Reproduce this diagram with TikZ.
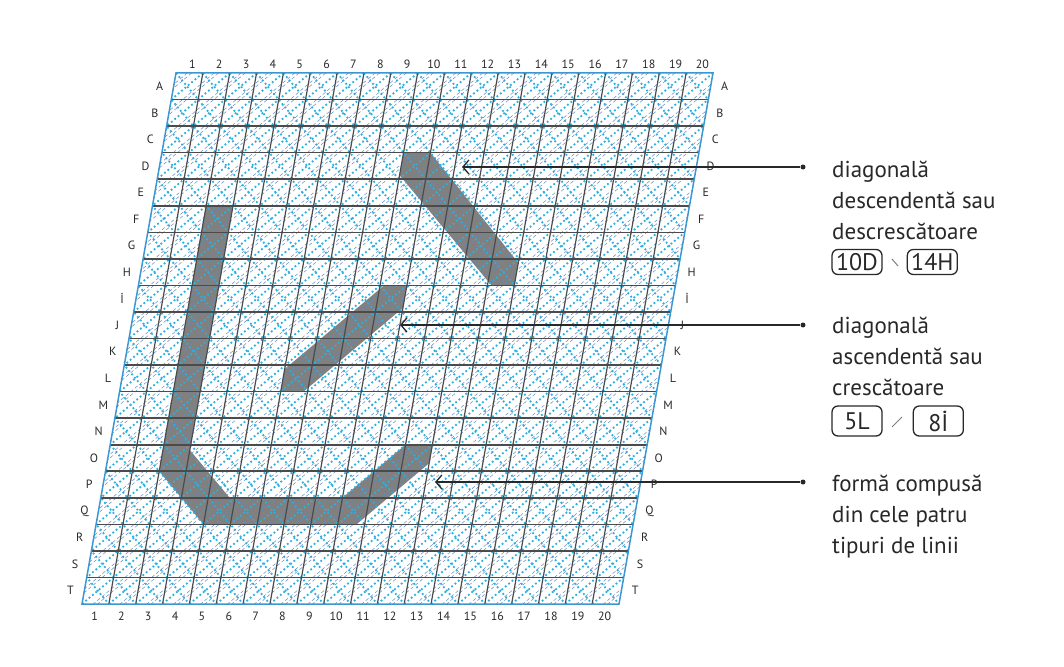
\documentclass[tikz,border=0pt]{standalone}
\usepackage{fontspec}
\setmainfont{PT Sans}
\usetikzlibrary{arrows.meta,positioning}

\definecolor{GridGray}{RGB}{75,75,75}
\definecolor{BandGray}{RGB}{128,128,128}
\definecolor{DotCyan}{RGB}{45,175,225}
\definecolor{DashBlue}{RGB}{95,140,190}
\definecolor{EdgeBlue}{RGB}{60,150,210}
\definecolor{InkGray}{RGB}{40,40,40}

\begin{document}
\begin{tikzpicture}[x=1pt,y=-1pt]
\tikzset{GridLine/.style = {GridGray, line width=1.2pt},
	RowLine/.style = {GridGray, line width=1.6pt},
	DotLine/.style = {DotCyan, line width=1.8pt, dash pattern=on 1.8pt off 2.6pt},
	DashLine/.style = {DashBlue, line width=0.5pt, dash pattern=on 3.5pt off 2.5pt},
	BandStyle/.style = {fill=BandGray},
	LabelStyle/.style = {font=\fontsize{12}{12}\selectfont, text=InkGray, inner sep=0pt},
	TextStyle/.style = {font=\fontsize{23}{23}\selectfont, text=InkGray, anchor=base west, inner sep=0pt},
	BoxStyle/.style = {draw=InkGray, line width=1.3pt, rounded corners=6pt,
		minimum width=50pt, minimum height=25pt, inner sep=1pt,
		font=\fontsize{24}{24}\selectfont, text=InkGray},
	BulletStyle/.style = {circle, fill=InkGray, inner sep=0pt, minimum size=5pt},
	PointerStyle/.style = {InkGray, line width=1.3pt, -{Straight Barb[length=6pt,width=14pt]}}}
\useasboundingbox (0,0) rectangle (1064,666);
\begin{scope}[shift={(176,73)}, x={(26.85pt,0pt)}, y={(-4.7pt,-26.55pt)}]
% shaded strokes
\fill[BandStyle] (9,3) -- (10,3) -- (14,7.15) -- (14,8) -- (13.15,8) -- (9,3.85) -- cycle;
\fill[BandStyle] (9.15,8) -- (10,8) -- (10,8.85) -- (6.85,12) -- (6,12) -- (6,11.15) -- cycle;
\fill[BandStyle] (2,5) -- (3,5) -- (3,14.2) -- (4.8,16) -- (9,16) -- (11,14) -- (12,14)
	-- (12,14.7) -- (9.7,17) -- (4,17) -- (2,15) -- cycle;
\begin{scope}
\clip (0,0) -- (20,0) -- (20,20) -- (0,20) -- cycle;
\foreach \c in {-20,...,20} \draw[DotLine] (\c,0) -- (\c+20,20);
\foreach \c in {0,...,40} {
	\draw[DotLine] (\c,0) -- (\c-20,20);
	\draw[DashLine] (\c+0.42,0) -- (\c-19.58,20);
	\draw[DashLine] (\c+0.58,0) -- (\c-19.42,20);
}
\end{scope}
\foreach \i in {1,...,19} {
	\draw[GridLine] (\i,0) -- (\i,20);
	\draw[RowLine] (0,\i) -- (20,\i);
}
\draw[EdgeBlue, line width=1.5pt] (0,0) -- (20,0) -- (20,20) -- (0,20) -- cycle;
% labels
\foreach \r [count=\k from 0] in {A,B,C,D,E,F,G,H,İ,J,K,L,M,N,O,P,Q,R,S,T} {
	\node[LabelStyle] (rl\k) at (-0.52,\k+0.5) {\r};
	\node[LabelStyle] (rr\k) at (20.52,\k+0.5) {\r};
}
\foreach \i in {1,...,20} {
	\node[LabelStyle] (ct\i) at (\i-0.45,-0.33) {\i};
	\node[LabelStyle] (cb\i) at (\i-0.45,20.47) {\i};
}
\end{scope}
% pointers
\node[BulletStyle] (dot1) at (803,167) {};
\node[BulletStyle] (dot2) at (803,325) {};
\node[BulletStyle] (dot3) at (803,482) {};
\coordinate (tip1) at (462,167);
\coordinate (tip2) at (400,325);
\coordinate (tip3) at (435,482);
\draw[PointerStyle] (dot1) -- (tip1);
\draw[PointerStyle] (dot2) -- (tip2);
\draw[PointerStyle] (dot3) -- (tip3);
% texts
\node[TextStyle] (desc1) at (832,177) {diagonală};
\node[TextStyle] (desc2) at (832,208) {descendentă sau};
\node[TextStyle] (desc3) at (832,239) {descrescătoare};
\node[BoxStyle] (from1) at (857,262) {10D};
\node[BoxStyle, right=24pt of from1] (to1) {14H};
\draw[InkGray!60, line width=1pt] (892,259) -- (898,266);
\node[TextStyle] (asc1) at (832,333) {diagonală};
\node[TextStyle] (asc2) at (832,364) {ascendentă sau};
\node[TextStyle] (asc3) at (832,395) {crescătoare};
\node[BoxStyle, minimum height=30pt] (from2) at (857,421) {5L};
\node[BoxStyle, minimum height=30pt, right=30pt of from2] (to2) {8İ};
\draw[InkGray!60, line width=1pt] (892,427) -- (902,417);
\node[TextStyle] (comp1) at (832,491) {formă compusă};
\node[TextStyle] (comp2) at (832,522) {din cele patru};
\node[TextStyle] (comp3) at (832,553) {tipuri de linii};
\end{tikzpicture}
\end{document}
